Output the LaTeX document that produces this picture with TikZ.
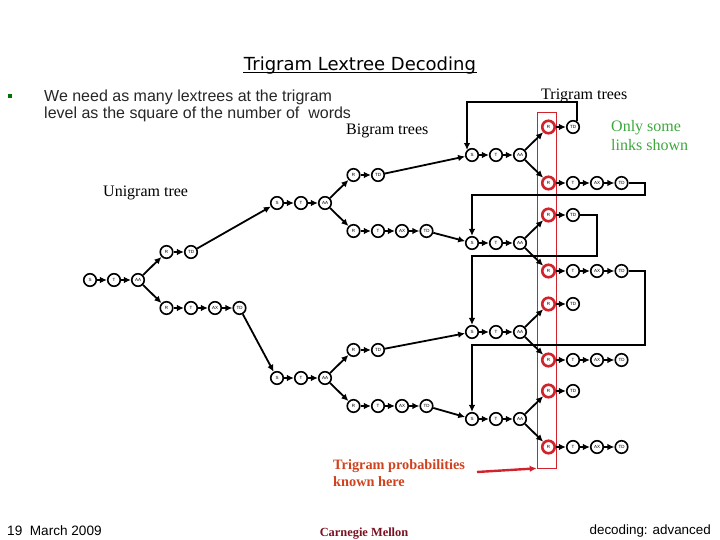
\documentclass[tikz,border=0pt]{standalone}
\usepackage{fontspec}
\usetikzlibrary{arrows.meta}
\setmainfont{Liberation Serif}
\newfontfamily\slidefont{Liberation Sans}
\newfontfamily\titlefont{DejaVu Sans}
\definecolor{probred}{HTML}{D0421E}
\definecolor{cmured}{HTML}{7A1020}
\definecolor{linkgreen}{HTML}{3DA63D}
\definecolor{boxred}{HTML}{D0232B}
\tikzset{
  phone/.style={circle, draw, line width=1.6pt, fill=white, minimum size=12.5pt, inner sep=0pt, font=\slidefont\fontsize{4.5}{5}\selectfont},
  rootphone/.style={phone, draw=boxred, line width=2.6pt},
  arc/.style={->, line width=1.8pt},
  loopback/.style={->, line width=2pt},
  label/.style={font=\fontsize{16}{18}\selectfont, anchor=west, inner sep=0pt},
}
\begin{document}
\begin{tikzpicture}[>={Latex[length=7pt,width=6.5pt]}, x=1pt, y=-1pt]
\useasboundingbox (0,0) rectangle (720,540);
% Heading and bullet
\node[font=\titlefont\fontsize{18}{20}\selectfont, inner sep=0pt] (heading) at (360,66) {Trigram Lextree Decoding};
\draw[line width=1.3pt] (243,72.5) -- (477,72.5);
\node[fill=green!45!black, minimum size=4pt, inner sep=0pt] (bullet) at (10,96.5) {};
\node[font=\slidefont\fontsize{16}{17}\selectfont, anchor=west, inner sep=0pt, align=left, color=black!85] (intro) at (44,105.5) {We need as many lextrees at the trigram\\level as the square of the number of\ \ words};
% Tree labels
\node[label] (unilabel) at (103,193) {Unigram tree};
\node[label] (bilabel) at (346,131) {Bigram trees};
\node[label] (trilabel) at (541,96) {Trigram trees};
\node[label, color=linkgreen, align=left, font=\fontsize{16}{19}\selectfont] (onlysome) at (611,136) {Only some\\links shown};
% Box over the R nodes
\node[draw=boxred, line width=0.7pt, inner sep=0pt, minimum width=19pt, minimum height=356pt] (probbox) at (546.5,290) {};
% Trees: name/x/y/style of the R nodes
\foreach \tree/\tx/\ty/\rkind in {u/90/280/phone, a/277/203/phone, b/277/378/phone, aa/472/155/rootphone, ab/472/243/rootphone, ba/472/332/rootphone, bb/472/419/rootphone}{
\begin{scope}[shift={(\tx,\ty)}, name prefix=\tree-]
\node[phone] (s) at (0,0) {S};
\node[phone] (t) at (24,0) {T};
\node[phone] (aa) at (48,0) {AA};
\node[\rkind] (r1) at (76.5,-28) {R};
\node[phone] (td1) at (101,-28) {TD};
\node[\rkind] (r2) at (76.5,28) {R};
\node[phone] (t2) at (101,28) {T};
\node[phone] (ax) at (125,28) {AX};
\node[phone] (td2) at (149.5,28) {TD};
\draw[arc] (s) -- (t);
\draw[arc] (t) -- (aa);
\draw[arc] (aa) -- (r1);
\draw[arc] (aa) -- (r2);
\draw[arc] (r1) -- (td1);
\draw[arc] (r2) -- (t2);
\draw[arc] (t2) -- (ax);
\draw[arc] (ax) -- (td2);
\end{scope}
}
% From unigram to bigram, from bigram to trigram
\draw[arc] (u-td1) -- (a-s);
\draw[arc] (u-td2) -- (b-s);
\draw[arc] (a-td1) -- (aa-s);
\draw[arc] (a-td2) -- (ab-s);
\draw[arc] (b-td1) -- (ba-s);
\draw[arc] (b-td2) -- (bb-s);
% Links back
\draw[loopback] (aa-td1.60) -- ++(0,-19) -| (aa-s.135);
\draw[loopback] (aa-td2.east) -| (645,195) -| (ab-s.north);
\draw[loopback] (ab-td1.east) -| (597,255.5) -| (ba-s.north);
\draw[loopback] (ab-td2.east) -| (645,345) -| (bb-s.north);
% Note on the box
\node[font=\bfseries\fontsize{14.3}{17}\selectfont, color=probred, anchor=west, align=left, inner sep=0pt] (probtext) at (333,473.5) {Trigram probabilities\\known here};
\coordinate (probtail) at (477,472);
\draw[->, color=boxred, line width=2.4pt] (probtail) -- (probbox.south west);
% Footer
\node[font=\slidefont\fontsize{13.6}{15}\selectfont, anchor=west, inner sep=0pt] (datetext) at (7,531) {19\ \ March 2009};
\node[font=\bfseries\fontsize{12.4}{14}\selectfont, color=cmured, inner sep=0pt] (cmulogo) at (364,534) {Carnegie Mellon};
\node[font=\slidefont\fontsize{13.4}{15}\selectfont, anchor=east, inner sep=0pt] (topictext) at (711,531) {decoding: advanced};
\end{tikzpicture}
\end{document}
